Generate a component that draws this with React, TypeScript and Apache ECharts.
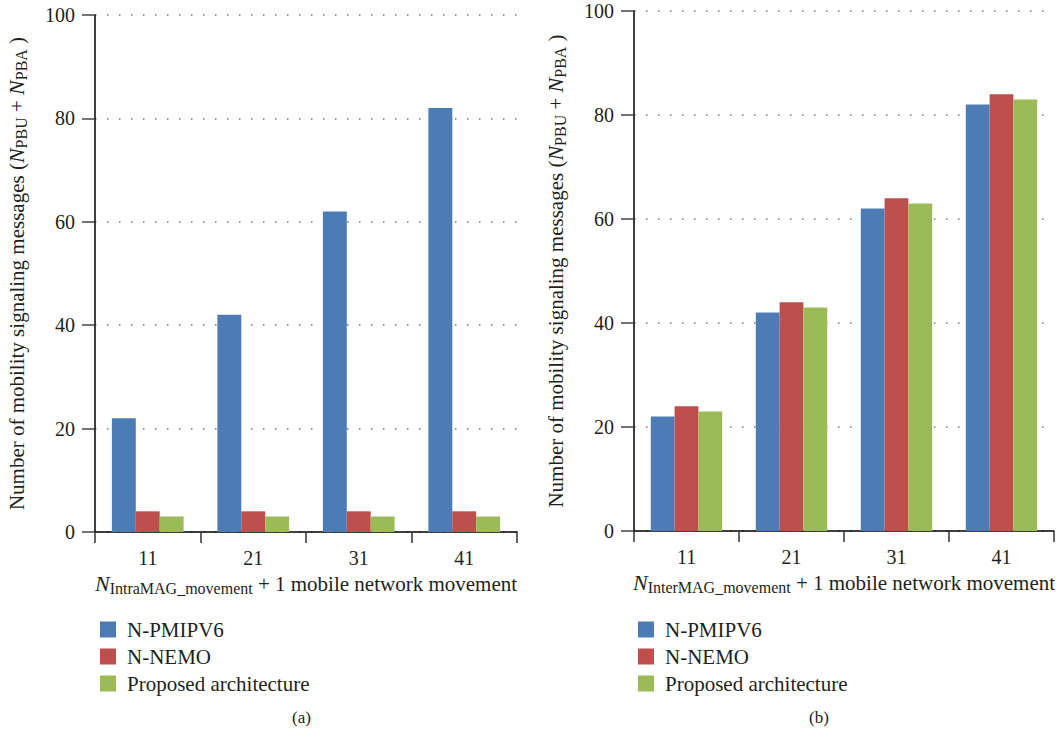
import React, { useEffect, useRef } from "react";
import * as echarts from "echarts";

const categories = ["11", "21", "31", "41"];
const seriesNames = ["N-PMIPV6", "N-NEMO", "Proposed architecture"];
const colors = ["#4d7bb6", "#bd4f4c", "#9bbb59"];
const intraPmipv6 = [22, 42, 62, 82];
const intraNemo = [4, 4, 4, 4];
const intraProposed = [3, 3, 3, 3];
const interPmipv6 = [22, 42, 62, 82];
const interNemo = [24, 44, 64, 84];
const interProposed = [23, 43, 63, 83];
const yMin = 0;
const yMax = 100;
const yInterval = 20;
const panelLabels = ["(a)", "(b)"];

const FONT = "Liberation Serif";
const TEXT = "#231f20";

const rich = {
  i: { fontFamily: FONT, fontStyle: "italic", fontSize: 22, color: TEXT },
  s: { fontFamily: FONT, fontSize: 16, color: TEXT, padding: [9, 0, 0, 0] },
};

function xAxis(gridIndex: number, sub: string) {
  return {
    type: "category",
    gridIndex,
    data: categories,
    axisLine: { show: true, lineStyle: { color: "#000", width: 1.5 } },
    axisTick: { show: true, length: 11, lineStyle: { color: "#333", width: 1.5 } },
    axisLabel: { fontFamily: FONT, fontSize: 20, color: TEXT, margin: 16 },
    name: "{i|N}{s|" + sub + "} + 1 mobile network movement",
    nameLocation: "middle",
    nameGap: 38,
    nameTextStyle: { fontFamily: FONT, fontSize: 21, color: TEXT, rich },
  };
}

function yAxis(gridIndex: number) {
  return {
    type: "value",
    gridIndex,
    min: yMin,
    max: yMax,
    interval: yInterval,
    axisLine: { show: true, lineStyle: { color: "#000", width: 1.5 } },
    axisTick: { show: true, length: 13, lineStyle: { color: "#444", width: 1.5 } },
    axisLabel: { fontFamily: FONT, fontSize: 20, color: TEXT, margin: 20 },
    splitLine: {
      show: true,
      lineStyle: { color: "#777", width: 1.5, type: [1.5, 10.5] },
    },
    name: "Number of mobility signaling messages ({i|N}{s|PBU} + {i|N}{s|PBA} )",
    nameLocation: "middle",
    nameGap: 66,
    nameRotate: 90,
    nameTextStyle: { fontFamily: FONT, fontSize: 21, color: TEXT, rich },
  };
}

function bars(idx: number, data: number[], si: number) {
  return {
    type: "bar",
    name: seriesNames[si],
    xAxisIndex: idx,
    yAxisIndex: idx,
    data,
    barGap: "0%",
    barCategoryGap: "32%",
    itemStyle: { color: colors[si] },
  };
}

function legend(left: number) {
  return {
    orient: "vertical",
    left,
    top: 614,
    itemWidth: 16,
    itemHeight: 16,
    itemGap: 6,
    icon: "rect",
    data: seriesNames,
    selectedMode: false,
    textStyle: {
      fontFamily: FONT,
      fontSize: 21,
      color: TEXT,
      padding: [0, 0, 0, 6],
    },
  };
}

export default function App() {
  const ref = useRef<HTMLDivElement>(null);
  useEffect(() => {
    if (!ref.current) return;
    const chart = echarts.init(ref.current, undefined, { renderer: "svg" });
    chart.setOption({
      animation: false,
      backgroundColor: "#fff",
      grid: [
        { left: 95, right: 547, top: 15, bottom: 206 },
        { left: 634, right: 10, top: 11, bottom: 207 },
      ],
      xAxis: [xAxis(0, "IntraMAG_movement"), xAxis(1, "InterMAG_movement")],
      yAxis: [yAxis(0), yAxis(1)],
      legend: [legend(95), legend(633)],
      series: [
        bars(0, intraPmipv6, 0),
        bars(0, intraNemo, 1),
        bars(0, intraProposed, 2),
        bars(1, interPmipv6, 0),
        bars(1, interNemo, 1),
        bars(1, interProposed, 2),
      ],
      graphic: [
        {
          type: "text",
          left: 292,
          top: 709,
          style: { text: panelLabels[0], fontFamily: FONT, fontSize: 17, fill: TEXT },
        },
        {
          type: "text",
          left: 809,
          top: 709,
          style: { text: panelLabels[1], fontFamily: FONT, fontSize: 17, fill: TEXT },
        },
      ],
    });
    return () => chart.dispose();
  }, []);
  return (
    <div
      ref={ref}
      style={{ position: "fixed", left: 0, top: 0, width: 1064, height: 738, background: "#fff" }}
    />
  );
}
